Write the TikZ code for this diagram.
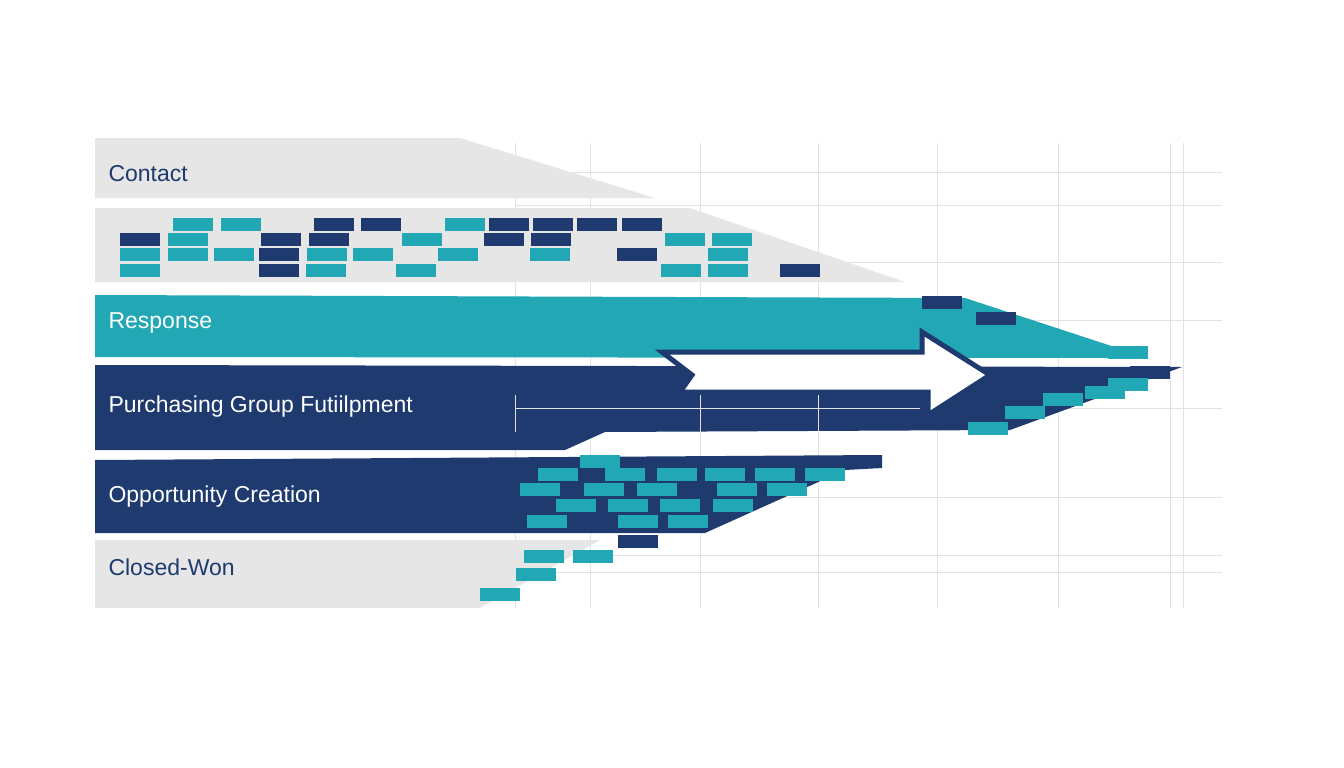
\documentclass[tikz,border=0pt]{standalone}
\usepackage{fontspec}
\setmainfont{Liberation Sans}
\definecolor{teal}{HTML}{22A7B5}
\definecolor{navy}{HTML}{1E3A6E}
\definecolor{band}{HTML}{E6E6E6}
\definecolor{grid}{HTML}{E2E2E2}
\tikzset{
  lab/.style={anchor=west, font=\fontsize{23}{26}\selectfont},
  tblock/.style={fill=teal},
  nblock/.style={fill=navy}
}
\begin{document}
\begin{tikzpicture}[x=1pt,y=-1pt]
\useasboundingbox (0,0) rectangle (1344,768);

% Grid
\foreach \gx in {515,590,700,818,937,1058,1170,1183}
  \draw[grid] (\gx,143) -- (\gx,608);
\foreach \gy in {172,205,262,320,408,497,555,572}
  \draw[grid] (515,\gy) -- (1222,\gy);

% Bands
\fill[band] (95,138) -- (460,138) -- (655,198) -- (95,198) -- cycle;
\fill[band] (95,208) -- (690,208) -- (905,282) -- (95,282) -- cycle;
\fill[teal] (95,295) -- (965,298) -- (1148,358) -- (95,357) -- cycle;
\fill[navy] (95,365) -- (1182,367) -- (1010,430) -- (605,432) -- (565,450) -- (95,450) -- cycle;
\fill[navy] (95,460) -- (882,455) -- (882,468) -- (845,470) -- (705,533) -- (95,533) -- cycle;
\fill[band] (95,540) -- (600,540) -- (480,608) -- (95,608) -- cycle;
\draw[grid] (515,408) -- (920,408);
\foreach \gx in {515,700,818} \draw[grid] (\gx,395) -- (\gx,432);

% Arrow
\draw[navy, line width=5pt, fill=white, line join=miter]
  (662,352) -- (922,352) -- (922,332) -- (990,375) -- (928,415) -- (928,392)
  -- (680,392) -- (692,375) -- cycle;

% Blocks
\foreach \bx/\by/\bc in {173/218/t,221/218/t,314/218/n,361/218/n,445/218/t,489/218/n,533/218/n,577/218/n,622/218/n,
  120/233/n,168/233/t,261/233/n,309/233/n,402/233/t,484/233/n,531/233/n,665/233/t,712/233/t,
  120/248/t,168/248/t,214/248/t,259/248/n,307/248/t,353/248/t,438/248/t,530/248/t,617/248/n,708/248/t,
  120/264/t,259/264/n,306/264/t,396/264/t,661/264/t,708/264/t,780/264/n,
  922/296/n,976/312/n,1108/346/t,1130/366/n,1108/378/t,1085/386/t,1043/393/t,1005/406/t,968/422/t,
  580/455/t,538/468/t,605/468/t,657/468/t,705/468/t,755/468/t,805/468/t,
  520/483/t,584/483/t,637/483/t,717/483/t,767/483/t,
  556/499/t,608/499/t,660/499/t,713/499/t,527/515/t,618/515/t,668/515/t,
  618/535/n,524/550/t,573/550/t,516/568/t,480/588/t}
  \fill[\bc block] (\bx,\by) rectangle ++(40,13);

% Labels
\node[lab, text=navy] (contact) at (105,174) {Contact};
\node[lab, text=white] (response) at (105,323) {Response};
\node[lab, text=white] (purchasing) at (105,407) {Purchasing Group Futiilpment};
\node[lab, text=white] (opportunity) at (105,497) {Opportunity Creation};
\node[lab, text=navy] (closed) at (105,567) {Closed-Won};
\end{tikzpicture}
\end{document}
